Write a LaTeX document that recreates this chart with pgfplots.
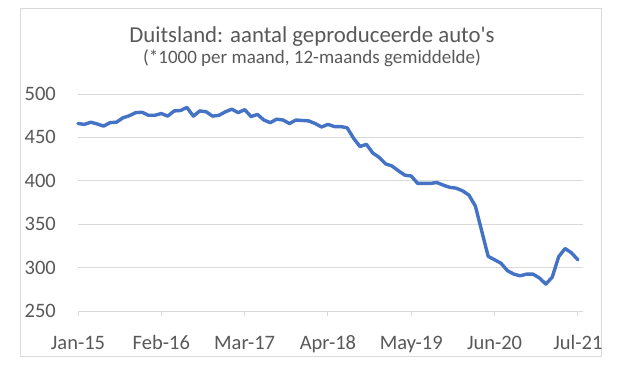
\documentclass[border=0pt]{standalone}
\usepackage{pgfplots}
\pgfplotsset{compat=1.18}
\usepackage{fontspec}
\setmainfont{Carlito}
\definecolor{txt}{HTML}{595959}
\definecolor{gridc}{HTML}{D9D9D9}
\definecolor{linec}{HTML}{4472C4}
\begin{document}
\begin{tikzpicture}[x=1bp,y=1bp]
\path[use as bounding box, fill=white] (0,0) rectangle (625,365);
\draw[gridc, line width=1bp] (20.5,9) rectangle (601,356);
\node[anchor=base, text=txt, font=\fontsize{22.8bp}{26bp}\selectfont, inner sep=0pt] at (312,322.7) {Duitsland: aantal geproduceerde auto\textquotesingle s};
\node[anchor=base, text=txt, font=\fontsize{19bp}{22bp}\selectfont, inner sep=0pt] at (312,301.7) {(*1000 per maand, 12-maands gemiddelde)};
\begin{axis}[
  at={(78bp,54bp)}, anchor=south west,
  scale only axis, width=505bp, height=217bp,
  xmin=0, xmax=78.8, ymin=250, ymax=500,
  axis x line*=bottom, axis y line*=left,
  y axis line style={draw=none},
  x axis line style={gridc, line width=1bp},
  xtick={0,13,26,39,52,65,78},
  xticklabels={Jan-15,Feb-16,Mar-17,Apr-18,May-19,Jun-20,Jul-21},
  ytick={250,300,350,400,450,500},
  ymajorgrids, grid style={gridc, line width=1bp},
  tick align=outside, major tick length=5bp,
  xtick style={gridc, line width=1bp},
  ytick style={draw=none},
  tick label style={text=txt, font=\fontsize{20.5bp}{24bp}\selectfont},
  /pgf/number format/assume math mode=true,
  yticklabel style={anchor=east, inner sep=0pt, xshift=-17bp},
  xticklabel style={anchor=base, inner sep=0pt, yshift=-33bp},
  clip=false,
]
\addplot[linec, line width=3.4bp, line join=round, line cap=round] coordinates {
(0,466) (1,465) (2,467.5) (3,465.5) (4,463) (5,467) (6,467.5) (7,472.5) (8,475) (9,478.5)
(10,479) (11,475.5) (12,475.5) (13,477.5) (14,474.5) (15,480.5) (16,481) (17,484.5) (18,474.5) (19,480.5)
(20,479.5) (21,474.5) (22,475.5) (23,479.5) (24,482.5) (25,478.5) (26,482) (27,474) (28,476.5) (29,470)
(30,467) (31,471) (32,470) (33,466) (34,470) (35,469.5) (36,469) (37,466) (38,462) (39,465)
(40,462.5) (41,462.5) (42,461) (43,449) (44,439.5) (45,442) (46,432) (47,427) (48,419.5) (49,417)
(50,411.5) (51,406.5) (52,405.5) (53,397) (54,397) (55,397) (56,398) (57,395) (58,392.5) (59,391.5)
(60,388.5) (61,383.5) (62,371) (63,342) (64,313) (65,309) (66,305) (67,296.5) (68,292.5) (69,290.5)
(70,292.5) (71,292.5) (72,288) (73,281) (74,289) (75,312.5) (76,322) (77,317) (78,309)
};
\end{axis}
\end{tikzpicture}
\end{document}
